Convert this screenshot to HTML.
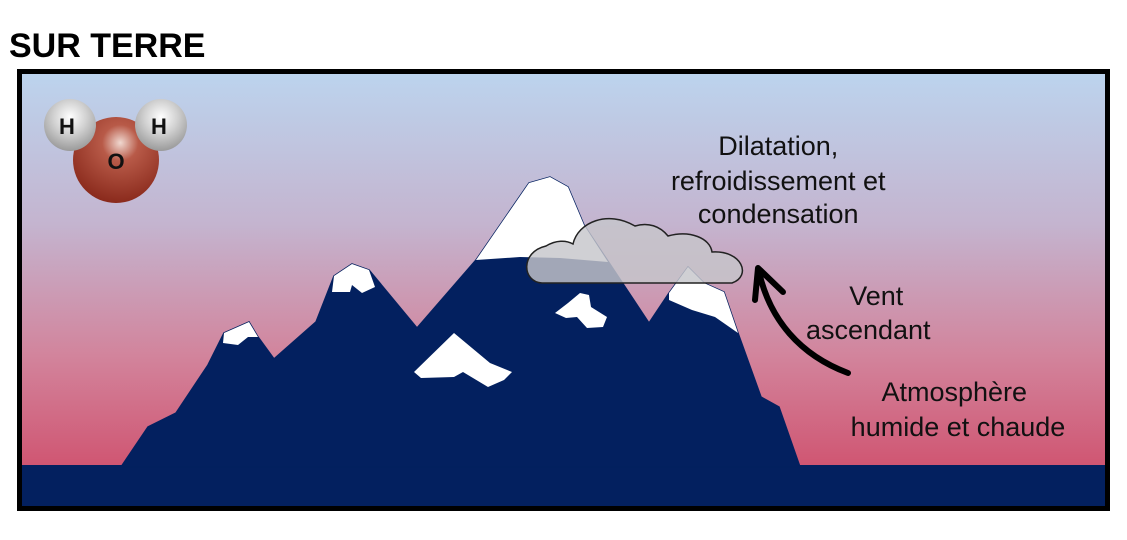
<!DOCTYPE html>
<html><head><meta charset="utf-8"><style>
html,body{margin:0;padding:0;background:#fff;width:1127px;height:540px;overflow:hidden}
</style></head><body>
<svg width="1127" height="540" viewBox="0 0 1127 540" xmlns="http://www.w3.org/2000/svg" font-family="Liberation Sans, sans-serif">
<defs>
<linearGradient id="sky" x1="0" y1="0" x2="0" y2="1">
<stop offset="0" stop-color="#bcd4ee"/>
<stop offset="0.35" stop-color="#c4b4cf"/>
<stop offset="0.65" stop-color="#d2849c"/>
<stop offset="1" stop-color="#cf4462"/>
</linearGradient>
<radialGradient id="ox" cx="0.55" cy="0.3" r="0.7">
<stop offset="0" stop-color="#f0d8d0"/>
<stop offset="0.3" stop-color="#b85a48"/>
<stop offset="1" stop-color="#8a2a1c"/>
</radialGradient>
<radialGradient id="hy" cx="0.5" cy="0.35" r="0.65">
<stop offset="0" stop-color="#ffffff"/>
<stop offset="0.5" stop-color="#d0d0d0"/>
<stop offset="1" stop-color="#9a9a9a"/>
</radialGradient>
</defs>
<text x="9" y="57" font-size="34" font-weight="bold" fill="#000">SUR TERRE</text>
<rect x="19.5" y="71.5" width="1088" height="437" fill="url(#sky)" stroke="#000" stroke-width="5"/>
<rect x="22" y="465" width="1083" height="41" fill="#03205f"/>
<polygon fill="#03205f" stroke="#03205f" stroke-width="1.5" points="121,467 148,427 176,413 208,365 224,333 249,322 258,337 274,359 316,322 334,276 352,264 369,270 417,328 476,260 529,183 550,177 568,187 584,225 649,323 669,293 688,267 704,283 724,292 738,333 761,397 779,407 800,467"/>
<polygon fill="#fff" points="476,260 529,183 550,177 568,187 584,225 608,262 560,258 520,257"/>
<polygon fill="#fff" points="669,293 688,267 704,283 724,292 738,333 715,317 692,310 669,300"/>
<polygon fill="#fff" points="334,276 352,264 369,270 375,287 362,293 352,285 350,292 332,292"/>
<polygon fill="#fff" points="224,333 249,322 258,337 248,337 238,345 223,343"/>
<polygon fill="#fff" points="454,333 490,363 512,372 504,380 488,387 463,372 454,377 421,378 414,372"/>
<polygon fill="#fff" points="580,293 589,295 591,307 607,317 603,327 587,328 577,317 566,318 555,313 568,303"/>
<path d="M542,283 C522,282 520,252 546,246 C556,240 566,240 573,244 C578,222 608,210 635,226 C648,222 660,226 668,236 C690,230 710,238 712,252 C742,250 752,276 732,283 Z" fill="#c6c6ca" fill-opacity="0.82" stroke="#222" stroke-width="1.5"/>
<text font-size="27" fill="#111" text-anchor="middle">
<tspan x="782" y="155">Dilatation,</tspan>
<tspan x="782" y="190">refroidissement et</tspan>
<tspan x="782" y="223">condensation</tspan>
<tspan x="880" y="305">Vent</tspan>
<tspan x="872" y="339">ascendant</tspan>
<tspan x="958" y="401">Atmosphère</tspan>
<tspan x="958" y="436">humide et chaude</tspan>
</text>
<path d="M848,373 C800,355 770,320 759,272" fill="none" stroke="#000" stroke-width="6" stroke-linecap="round"/>
<polyline points="755,300 758,268 783,292" fill="none" stroke="#000" stroke-width="6" stroke-linecap="round" stroke-linejoin="round"/>
<circle cx="116" cy="160" r="43" fill="url(#ox)"/>
<circle cx="70" cy="125" r="26" fill="url(#hy)"/>
<circle cx="161" cy="125" r="26" fill="url(#hy)"/>
<text x="67" y="134" font-size="22" font-weight="bold" fill="#111" text-anchor="middle">H</text>
<text x="159" y="134" font-size="22" font-weight="bold" fill="#111" text-anchor="middle">H</text>
<text x="116" y="169" font-size="22" font-weight="bold" fill="#111" text-anchor="middle">O</text>
</svg>
</body></html>
